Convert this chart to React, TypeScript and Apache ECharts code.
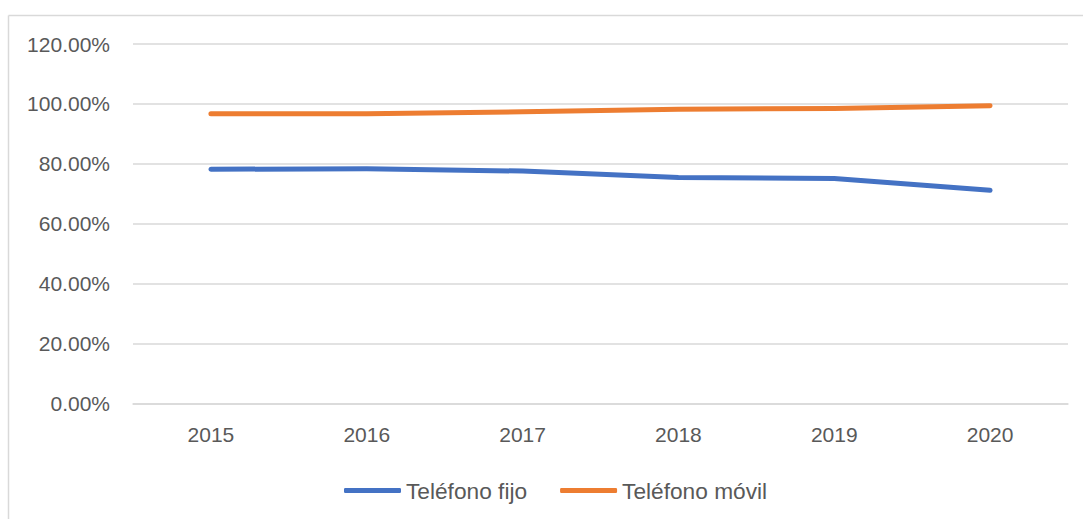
import React, { useEffect, useRef } from "react";
import * as echarts from "echarts";

const categories = ["2015", "2016", "2017", "2018", "2019", "2020"];
const fijo = [78.2, 78.4, 77.6, 75.5, 75.1, 71.2];
const movil = [96.7, 96.7, 97.4, 98.2, 98.5, 99.4];
const seriesNames = ["Teléfono fijo", "Teléfono móvil"];

const FONT = "'Liberation Sans', Arial, sans-serif";
const TEXT = "#595959";
const GRID = "#d9d9d9";

export default function App() {
  const ref = useRef<HTMLDivElement>(null);
  useEffect(() => {
    if (!ref.current) return;
    const chart = echarts.init(ref.current, null, { renderer: "svg" });
    chart.setOption({
      animation: false,
      backgroundColor: "#ffffff",
      textStyle: { fontFamily: FONT },
      graphic: [
        { type: "line", shape: { x1: 8.5, y1: 15.5, x2: 1083, y2: 15.5 }, style: { stroke: GRID, lineWidth: 1.5 }, silent: true },
        { type: "line", shape: { x1: 8.5, y1: 15.5, x2: 8.5, y2: 519 }, style: { stroke: GRID, lineWidth: 1.5 }, silent: true },
      ],
      grid: { left: 133, right: 15, top: 44, bottom: 115.3, containLabel: false },
      legend: {
        left: 339,
        top: 474,
        itemWidth: 57,
        itemHeight: 5,
        itemGap: 33,
        icon: "roundRect",
        textStyle: { fontFamily: FONT, fontSize: 22.7, color: TEXT },
        data: seriesNames,
      },
      xAxis: {
        type: "category",
        data: categories,
        boundaryGap: true,
        axisLine: { show: true, lineStyle: { color: GRID, width: 1.5 } },
        axisTick: { show: false },
        axisLabel: { fontFamily: FONT, fontSize: 21, color: TEXT, margin: 20 },
      },
      yAxis: {
        type: "value",
        min: 0,
        max: 120,
        interval: 20,
        axisLine: { show: false },
        axisTick: { show: false },
        splitLine: { lineStyle: { color: GRID, width: 1.5 } },
        axisLabel: {
          fontFamily: FONT,
          fontSize: 21,
          color: TEXT,
          margin: 23,
          formatter: (v: number) => v.toFixed(2) + "%",
        },
      },
      series: [
        {
          name: seriesNames[0],
          type: "line",
          data: fijo,
          showSymbol: false,
          symbol: "none",
          itemStyle: { color: "#4472C4" },
          lineStyle: { color: "#4472C4", width: 5, cap: "round", join: "round" },
        },
        {
          name: seriesNames[1],
          type: "line",
          data: movil,
          showSymbol: false,
          symbol: "none",
          itemStyle: { color: "#ED7D31" },
          lineStyle: { color: "#ED7D31", width: 5, cap: "round", join: "round" },
        },
      ],
    });
    return () => chart.dispose();
  }, []);
  return (
    <div
      ref={ref}
      style={{ position: "fixed", left: 0, top: 0, width: 1083, height: 519 }}
    />
  );
}
